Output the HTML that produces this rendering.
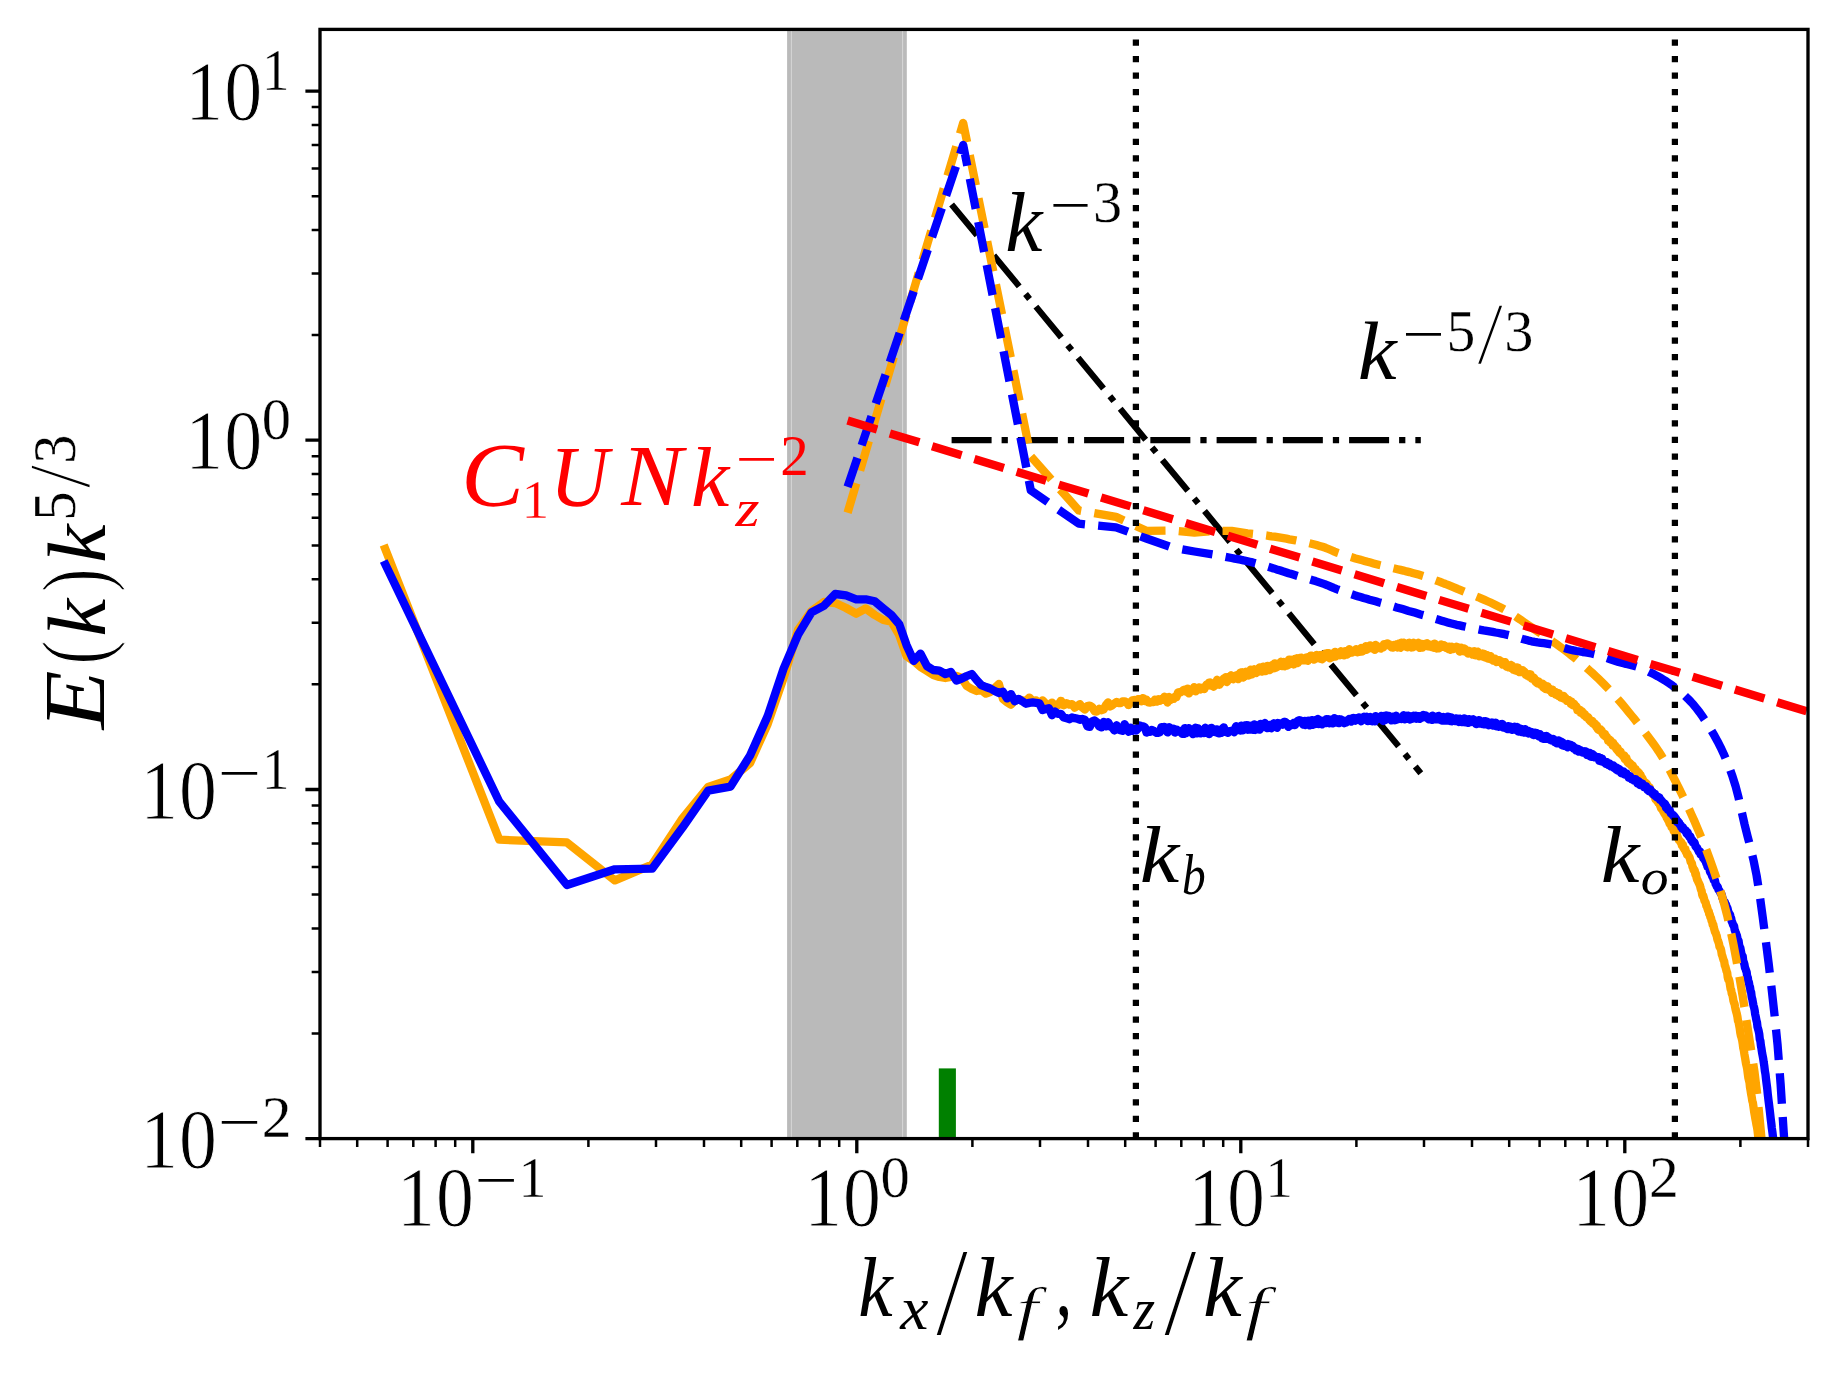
<!DOCTYPE html>
<html lang="en"><head><meta charset="utf-8"><title>E(k) k^(5/3) spectra</title>
<style>html,body{margin:0;padding:0;background:#fff}svg{display:block}text{font-family:"Liberation Serif","DejaVu Serif",serif;font-size:100px}</style></head><body>
<svg width="1838" height="1374" viewBox="0 0 1838 1374">
<rect x="0" y="0" width="1838" height="1374" fill="#ffffff"/>
<defs><clipPath id="ax"><rect x="320.0" y="29.4" width="1488.0" height="1109.2"/></clipPath></defs>
<g clip-path="url(#ax)" fill="none" stroke-linejoin="round">
<rect x="787.1" y="29.4" width="119.7" height="1109.2" fill="#bababa" stroke="none"/>
<rect x="791.6" y="29.4" width="111.0" height="1109.2" fill="#bababa" stroke="none"/>
<rect x="790.9" y="29.4" width="0.9" height="1109.2" fill="#dadada" stroke="none"/>
<rect x="902.2" y="29.4" width="0.9" height="1109.2" fill="#dadada" stroke="none"/>
<rect x="938.8" y="1068.4" width="17.1" height="70.2" fill="#008000" stroke="none"/>
<path d="M951.6 440.2H1420.8" stroke="#000" stroke-width="6.25" stroke-dasharray="40.00 10.00 6.25 10.00"/>
<path d="M951.6 204.4L1420.8 773.3" stroke="#000" stroke-width="6.25" stroke-dasharray="40.00 10.00 6.25 10.00"/>
<path d="M383.7 545.0L499.3 839.7L566.9 842.4L614.9 880.4L652.1 864.6L682.5 818.4L708.2 787.0L730.5 779.5L750.1 763.0L767.7 724.0L783.6 678.0L798.1 630.0L811.5 611.0L823.8 602.0L835.3 603.0L846.1 608.0L856.2 613.7L865.7 608.5L874.7 615.0L883.3 620.0L891.4 621.6L899.2 635.0L906.6 656.0L913.7 661.0L920.5 667.0L927.0 671.0L933.3 675.0L939.4 677.0L945.3 678.0L950.9 677.0L956.4 676.0L961.7 678.0L966.8 686.0L971.8 689.0L976.6 691.0L981.3 690.0L985.9 693.6L990.3 692.0L994.7 688.0L998.9 684.0L1003.0 699.0L1007.0 702.1L1011.0 704.6L1014.8 700.7L1018.5 699.5L1022.2 700.3L1025.8 701.2L1029.3 697.6L1032.7 700.9L1036.1 700.4L1039.4 703.7L1042.6 700.4L1045.8 703.9L1048.9 705.5L1052.0 702.6L1055.0 705.8L1058.0 705.2L1060.9 700.8L1063.7 705.3L1066.5 703.2L1069.3 704.7L1072.0 704.1L1074.6 707.6L1077.3 706.0L1079.9 704.1L1082.4 707.5L1084.9 709.6L1087.4 706.2L1089.8 705.7L1092.2 707.1L1094.6 711.3L1096.9 711.5L1099.2 708.9L1101.5 710.2L1103.7 709.3L1105.9 705.2L1108.1 702.5L1110.3 706.3L1112.4 705.2L1114.5 703.4L1116.6 702.0L1118.6 703.1L1120.6 703.2L1122.6 701.4L1124.6 701.3L1126.5 702.2L1128.5 705.0L1130.4 702.7L1132.3 700.3L1134.1 700.0L1136.0 701.2L1137.8 699.2L1139.6 699.1L1141.4 701.3L1143.1 698.1L1144.9 700.9L1146.6 699.9L1148.3 702.4L1150.0 702.6L1151.7 702.1L1153.4 702.0L1155.0 699.7L1156.6 701.7L1158.2 699.2L1159.8 700.8L1161.4 698.9L1163.0 699.6L1164.5 696.7L1166.1 697.7L1167.6 702.5L1169.1 696.9L1170.6 699.7L1172.1 698.9L1173.6 698.9L1175.0 696.7L1176.5 697.0L1177.9 692.7L1179.3 692.1L1180.7 692.3L1182.1 691.2L1183.5 690.1L1184.9 689.5L1186.2 691.8L1187.6 688.6L1188.9 693.4L1190.2 691.0L1191.6 689.7L1192.9 690.5L1194.2 687.1L1195.5 691.3L1196.7 690.4L1198.0 689.3L1199.3 687.4L1200.5 689.5L1201.7 688.5L1203.0 687.6L1204.2 689.0L1205.4 686.7L1206.6 684.6L1207.8 685.5L1209.0 682.8L1210.2 682.4L1211.3 685.7L1212.5 685.7L1213.7 686.6L1214.8 685.5L1215.9 683.1L1217.1 679.8L1218.2 682.1L1219.3 684.7L1220.4 683.4L1221.5 681.1L1222.6 680.5L1223.7 678.6L1224.8 678.1L1225.9 677.1L1226.9 682.1L1228.0 680.1L1229.0 676.6L1230.1 678.0L1231.1 675.3L1232.2 676.1L1233.2 679.2L1234.2 678.3L1235.2 676.9L1236.2 675.3L1237.2 677.4L1238.2 679.1L1239.2 675.4L1240.2 672.7L1241.2 672.4L1242.1 672.2L1243.1 677.6L1244.1 674.6L1245.0 676.3L1246.0 671.7L1246.9 672.0L1247.9 674.5L1248.8 675.5L1249.7 671.7L1250.6 669.6L1251.6 674.5L1252.5 670.5L1253.4 673.1L1254.3 669.2L1255.2 672.3L1256.1 673.0L1257.0 672.0L1257.9 669.4L1258.7 671.5L1259.6 667.5L1260.5 668.4L1261.4 668.8L1262.2 671.5L1263.1 666.7L1263.9 671.0L1264.8 670.3L1265.6 671.1L1266.5 667.1L1267.3 665.9L1268.1 665.9L1269.0 669.3L1269.8 670.0L1270.6 668.1L1271.4 666.5L1272.2 665.1L1273.0 668.3L1273.8 668.3L1274.6 663.3L1275.4 663.9L1276.2 667.5L1277.0 667.4L1277.8 663.9L1278.6 663.5L1279.4 664.3L1280.1 664.7L1280.9 661.8L1281.7 666.2L1282.4 664.2L1283.2 665.5L1283.9 662.0L1284.7 666.3L1285.4 664.8L1286.2 662.2L1286.9 665.7L1287.7 664.0L1288.4 664.7L1289.1 659.7L1289.9 659.7L1290.6 663.7L1291.3 660.9L1292.0 662.0L1292.8 659.7L1293.5 664.5L1294.2 661.5L1294.9 663.4L1295.6 658.7L1296.3 661.0L1297.0 658.3L1297.7 663.2L1298.4 660.4L1299.1 658.0L1299.8 657.9L1300.5 660.6L1301.1 657.7L1301.8 658.2L1302.5 659.6L1303.2 659.9L1303.8 660.3L1304.5 660.4L1305.2 658.8L1305.8 660.1L1306.5 657.3L1307.2 657.9L1307.8 660.8L1308.5 656.9L1309.1 657.2L1309.8 657.2L1310.4 658.5L1311.0 655.6L1311.7 655.7L1312.3 658.1L1313.0 656.2L1313.6 659.2L1314.2 659.7L1314.9 658.4L1315.5 658.9L1316.1 657.1L1316.7 654.9L1317.3 657.1L1318.0 656.7L1318.6 657.9L1319.2 655.1L1319.8 655.5L1320.4 658.8L1321.0 655.5L1321.6 656.3L1322.2 659.3L1322.8 655.3L1323.4 654.5L1324.0 657.6L1324.6 656.7L1325.2 656.9L1325.8 653.5L1326.4 655.6L1326.9 653.1L1327.5 654.4L1328.1 656.9L1328.7 653.1L1329.3 654.4L1329.8 658.3L1330.4 658.1L1331.0 655.2L1331.5 656.5L1332.1 655.8L1332.7 654.8L1333.2 656.9L1333.8 652.9L1334.4 656.6L1334.9 652.0L1335.5 656.6L1336.0 655.4L1336.6 654.0L1337.7 655.1L1338.8 653.7L1339.8 655.3L1340.9 651.3L1342.0 653.4L1343.1 655.2L1344.1 655.3L1345.2 651.1L1346.2 651.1L1347.2 654.5L1348.3 651.2L1349.3 649.3L1350.3 652.8L1351.3 650.9L1352.3 652.5L1353.3 650.8L1354.3 650.8L1355.3 650.1L1356.3 649.2L1357.3 652.3L1358.2 650.9L1359.2 651.3L1360.1 651.7L1361.1 648.0L1362.0 651.5L1363.0 651.0L1363.9 648.8L1364.9 649.0L1365.8 646.3L1366.7 649.7L1367.6 646.4L1368.5 648.2L1369.4 645.8L1370.3 645.4L1371.2 648.2L1372.1 647.4L1373.0 648.3L1373.9 648.9L1374.8 649.8L1375.6 644.9L1376.5 647.7L1377.4 647.3L1378.2 647.7L1379.1 647.0L1379.9 647.0L1380.8 648.6L1381.6 646.2L1382.5 646.6L1383.3 647.4L1384.1 644.1L1385.0 645.8L1385.8 644.0L1386.6 644.1L1387.4 643.3L1388.2 644.4L1389.0 644.3L1389.8 645.8L1390.6 646.1L1391.4 647.3L1392.2 645.5L1393.0 647.6L1393.8 644.9L1394.6 646.7L1395.3 645.6L1396.1 646.0L1396.9 644.1L1397.6 647.5L1398.4 646.6L1399.2 643.3L1399.9 645.3L1400.7 647.7L1401.4 642.7L1402.2 644.0L1402.9 646.3L1403.6 642.6L1404.4 646.3L1405.1 645.4L1405.8 646.2L1406.6 645.3L1407.3 647.3L1408.0 644.2L1408.7 645.4L1409.4 642.7L1410.1 645.3L1410.8 644.6L1411.6 647.5L1412.3 647.4L1412.9 643.3L1413.6 642.8L1414.3 643.2L1415.0 643.6L1415.7 646.4L1416.4 645.5L1417.1 645.4L1417.8 645.1L1418.4 642.8L1419.1 644.8L1419.8 647.9L1420.4 647.0L1421.1 645.8L1421.8 643.9L1422.4 647.6L1423.1 645.1L1423.7 646.1L1424.4 644.0L1425.0 644.7L1425.7 644.8L1426.3 645.1L1427.0 643.2L1427.6 646.4L1428.2 644.0L1428.9 646.2L1429.5 646.3L1430.1 646.7L1430.8 644.8L1431.4 644.8L1432.0 647.1L1432.6 645.3L1433.2 644.2L1433.9 647.9L1434.5 643.6L1435.1 647.9L1435.7 645.0L1436.3 645.5L1436.9 648.5L1437.5 645.8L1438.1 647.3L1438.7 645.8L1439.3 648.3L1439.9 647.4L1440.5 646.3L1441.1 644.4L1441.7 645.8L1442.2 646.4L1442.8 645.5L1443.4 646.8L1444.0 645.2L1444.6 646.7L1445.1 646.9L1445.7 647.6L1446.3 648.0L1446.9 648.0L1447.4 646.6L1448.0 646.9L1448.6 649.0L1449.1 646.6L1449.7 648.5L1450.2 649.8L1450.8 649.6L1451.3 647.9L1451.9 646.8L1452.4 648.4L1453.3 648.9L1454.1 648.3L1454.9 647.6L1455.7 648.4L1456.5 646.8L1457.3 647.9L1458.1 647.4L1458.9 650.1L1459.7 651.6L1460.5 648.0L1461.3 647.6L1462.1 651.1L1462.8 649.5L1463.6 650.4L1464.4 648.5L1465.1 649.2L1465.9 651.8L1466.7 651.6L1467.4 652.9L1468.2 653.6L1468.9 650.9L1469.7 652.3L1470.4 651.7L1471.1 652.2L1471.9 651.8L1472.6 654.7L1473.3 653.3L1474.1 651.2L1474.8 654.0L1475.5 655.4L1476.2 655.3L1476.9 653.9L1477.6 651.6L1478.3 655.5L1479.1 656.2L1479.8 655.5L1480.5 654.3L1481.1 654.3L1481.8 656.2L1482.5 653.5L1483.2 656.8L1483.9 655.7L1484.6 654.0L1485.3 657.6L1485.9 655.9L1486.6 654.8L1487.3 655.3L1487.9 658.6L1488.6 655.8L1489.3 658.7L1489.9 659.1L1490.6 656.1L1491.2 657.9L1491.9 659.7L1492.5 658.7L1493.2 660.6L1493.8 658.7L1494.5 660.1L1495.1 658.6L1495.8 661.6L1496.4 661.9L1497.0 661.0L1497.7 660.2L1498.3 660.6L1498.9 661.9L1499.5 660.2L1500.1 662.1L1500.8 661.4L1501.4 661.9L1502.0 662.1L1502.6 664.6L1503.2 662.0L1503.8 662.5L1504.4 662.5L1505.0 662.1L1505.6 664.1L1506.2 666.2L1506.8 666.7L1507.4 665.2L1508.0 665.1L1508.6 667.3L1509.2 666.1L1509.8 666.4L1510.4 667.1L1510.9 664.9L1511.5 668.4L1512.1 665.5L1512.7 667.6L1513.2 669.6L1513.8 668.2L1514.4 667.6L1514.9 669.5L1515.5 670.5L1516.1 669.5L1516.6 667.4L1517.2 671.1L1517.8 667.7L1518.3 670.8L1518.9 672.0L1519.4 669.1L1520.0 671.0L1520.7 672.1L1521.4 670.2L1522.2 670.8L1522.9 670.4L1523.6 671.2L1524.3 671.4L1525.0 672.5L1525.7 674.8L1526.4 674.9L1527.1 675.6L1527.8 675.6L1528.5 676.5L1529.2 674.2L1529.9 676.3L1530.6 674.5L1531.3 676.9L1532.0 678.8L1532.7 677.7L1533.3 677.4L1534.0 677.8L1534.7 678.8L1535.4 681.5L1536.0 682.3L1536.7 681.9L1537.4 683.4L1538.0 683.0L1538.7 681.5L1539.3 682.6L1540.0 684.3L1540.6 684.7L1541.3 685.0L1541.9 684.7L1542.6 683.7L1543.2 687.4L1543.8 684.9L1544.5 688.3L1545.1 685.3L1545.7 689.1L1546.4 687.1L1547.0 689.2L1547.6 686.4L1548.2 688.5L1548.8 688.1L1549.5 690.2L1550.1 690.5L1550.7 690.0L1551.3 691.4L1551.9 692.8L1552.5 689.6L1553.1 691.9L1553.7 692.7L1554.3 692.8L1554.9 691.7L1555.5 694.5L1556.1 692.4L1556.7 695.1L1557.3 693.9L1557.8 693.0L1558.4 696.0L1559.0 693.4L1559.6 696.6L1560.2 696.2L1560.7 697.6L1561.3 697.7L1561.9 696.5L1562.5 695.8L1563.0 696.7L1563.6 696.0L1564.1 698.9L1564.7 697.1L1565.3 697.8L1565.8 698.4L1566.4 699.4L1566.9 700.9L1567.5 700.3L1568.0 700.9L1568.7 699.9L1569.4 701.3L1570.1 701.3L1570.8 703.8L1571.4 701.6L1572.1 704.4L1572.8 705.2L1573.4 705.0L1574.1 703.8L1574.8 705.2L1575.4 705.6L1576.1 706.3L1576.7 706.9L1577.4 710.1L1578.0 710.0L1578.7 710.9L1579.3 710.8L1580.0 710.0L1580.6 712.8L1581.2 711.7L1581.9 711.1L1582.5 713.7L1583.1 712.6L1583.8 715.3L1584.4 715.5L1585.0 714.4L1585.6 715.7L1586.2 717.2L1586.9 717.6L1587.5 717.7L1588.1 717.1L1588.7 718.1L1589.3 720.1L1589.9 719.8L1590.5 721.4L1591.1 721.8L1591.7 721.2L1592.3 720.9L1592.9 723.6L1593.5 723.0L1594.1 724.4L1594.6 723.4L1595.2 724.0L1595.8 725.6L1596.4 727.1L1597.0 725.7L1597.6 728.7L1598.1 729.5L1598.7 729.5L1599.3 730.3L1599.8 729.1L1600.4 729.1L1601.0 730.6L1601.5 730.4L1602.1 732.0L1602.7 733.8L1603.2 732.7L1603.8 735.3L1604.3 734.5L1604.9 734.0L1605.5 736.4L1606.2 736.4L1606.8 736.8L1607.5 738.1L1608.1 740.5L1608.8 740.4L1609.4 739.5L1610.1 742.4L1610.7 740.5L1611.3 742.0L1612.0 742.6L1612.6 745.5L1613.2 742.7L1613.9 745.7L1614.5 745.9L1615.1 745.4L1615.7 747.8L1616.4 749.1L1617.0 749.7L1617.6 748.0L1618.2 751.2L1618.8 750.3L1619.4 752.8L1620.0 752.5L1620.6 751.5L1621.2 754.5L1621.8 754.6L1622.4 754.9L1623.0 756.2L1623.6 756.2L1624.2 755.5L1624.8 759.2L1625.4 757.7L1625.9 758.4L1626.5 758.3L1627.1 761.2L1627.7 762.5L1628.3 761.7L1628.8 763.5L1629.4 762.6L1630.0 763.4L1630.5 763.8L1631.1 764.4L1631.7 766.0L1632.2 765.8L1632.8 765.6L1633.4 768.4L1633.9 767.8L1634.5 768.7L1635.0 768.7L1635.6 768.9L1636.2 771.6L1636.8 771.6L1637.5 774.1L1638.1 771.8L1638.7 775.3L1639.4 773.4L1640.0 774.7L1640.6 775.0L1641.2 777.4L1641.9 777.7L1642.5 778.4L1643.1 781.3L1643.7 780.8L1644.3 782.8L1644.9 783.5L1645.5 782.5L1646.1 784.4L1646.7 783.7L1647.3 785.1L1647.9 787.0L1648.5 787.5L1649.1 786.8L1649.7 787.6L1650.3 790.7L1650.9 791.3L1651.5 792.0L1652.0 791.5L1652.6 794.2L1653.2 794.4L1653.8 794.0L1654.4 794.9L1654.9 797.3L1655.5 799.3L1656.1 799.0L1656.6 799.0L1657.2 801.3L1657.8 800.6L1658.3 802.9L1658.9 803.1L1659.4 802.9L1660.0 805.4L1660.5 806.3L1661.1 808.5L1661.7 808.9L1662.3 808.7L1663.0 810.9L1663.6 810.8L1664.2 813.1L1664.8 814.0L1665.4 815.2L1666.0 814.9L1666.7 817.7L1667.3 818.2L1667.9 819.9L1668.5 818.9L1669.1 822.1L1669.7 823.9L1670.3 823.8L1670.9 823.6L1671.5 827.0L1672.0 827.0L1672.6 827.2L1673.2 829.3L1673.8 831.1L1674.4 829.9L1675.0 832.3L1675.5 833.6L1676.1 835.5L1676.7 833.9L1677.3 836.3L1677.8 837.9L1678.4 838.7L1679.0 840.3L1679.5 840.6L1680.1 841.5L1680.7 842.4L1681.2 842.1L1681.8 845.1L1682.3 845.1L1682.9 844.6L1683.4 847.9L1684.0 848.6L1684.7 849.7L1685.3 849.0L1685.9 852.1L1686.5 852.2L1687.1 854.7L1687.7 854.0L1688.3 855.8L1688.9 856.3L1689.5 857.3L1690.1 859.5L1690.7 861.9L1691.3 862.4L1691.9 863.5L1692.5 866.7L1693.0 867.6L1693.6 869.9L1694.2 869.5L1694.8 870.8L1695.4 874.6L1695.9 873.7L1696.5 877.4L1697.1 879.5L1697.7 880.5L1698.2 881.8L1698.8 882.9L1699.4 884.3L1699.9 885.3L1700.5 887.9L1701.0 889.8L1701.6 890.7L1702.1 894.3L1702.7 896.0L1703.2 895.6L1703.9 898.2L1704.5 900.7L1705.1 901.6L1705.7 902.7L1706.3 905.8L1706.9 906.6L1707.5 908.6L1708.1 910.7L1708.7 911.1L1709.2 913.9L1709.8 914.5L1710.4 917.3L1711.0 917.9L1711.6 921.1L1712.2 921.6L1712.7 925.0L1713.3 924.7L1713.9 927.9L1714.5 930.0L1715.0 931.9L1715.6 932.7L1716.2 934.6L1716.7 935.8L1717.3 939.1L1717.9 940.7L1718.4 941.9L1719.0 943.8L1719.5 946.8L1720.1 947.7L1720.6 948.4L1721.2 950.6L1721.8 954.5L1722.4 956.0L1723.0 958.3L1723.6 960.1L1724.2 961.3L1724.8 965.5L1725.4 966.7L1726.0 969.1L1726.6 971.3L1727.2 972.8L1727.7 977.2L1728.3 979.5L1728.9 979.4L1729.5 981.8L1730.0 985.0L1730.6 988.9L1731.2 990.0L1731.7 993.5L1732.3 994.5L1732.9 997.3L1733.4 1000.5L1734.0 1002.6L1734.6 1004.1L1735.1 1007.0L1735.7 1009.9L1736.2 1011.8L1736.8 1013.8L1737.4 1016.7L1738.0 1020.8L1738.6 1022.2L1739.1 1025.0L1739.7 1028.1L1740.3 1032.7L1740.9 1035.7L1741.5 1037.5L1742.1 1039.9L1742.7 1043.6L1743.2 1047.8L1743.8 1050.2L1744.4 1054.2L1745.0 1057.4L1745.5 1060.5L1746.1 1064.0L1746.7 1066.4L1747.2 1068.9L1747.8 1073.7L1748.3 1077.5L1748.9 1080.0L1749.5 1082.4L1750.0 1087.3L1750.6 1090.6L1751.1 1093.9L1751.7 1096.8L1752.3 1101.0L1752.9 1102.8L1753.5 1107.1L1754.1 1111.5L1754.7 1114.9L1755.2 1117.9L1755.8 1120.8L1756.4 1124.3L1757.0 1127.2L1757.5 1130.3L1758.1 1135.5L1758.7 1138.4L1759.3 1141.6L1759.8 1145.3L1760.4 1148.7L1760.9 1152.5L1761.5 1157.5L1762.1 1160.5L1762.6 1164.6L1763.2 1169.8L1763.7 1172.0L1764.3 1178.1L1764.9 1181.3L1765.5 1186.7" stroke="#ffa500" stroke-width="8.33"/>
<path d="M383.7 561.0L499.3 801.7L566.9 885.0L614.9 869.3L652.1 868.7L682.5 827.6L708.2 790.6L730.5 786.6L750.1 755.5L767.7 716.0L783.6 668.7L798.1 634.7L811.5 612.4L823.8 605.9L835.3 594.0L846.1 595.4L856.2 599.3L865.7 599.3L874.7 601.3L883.3 608.5L891.4 615.0L899.2 624.2L906.6 645.2L913.7 660.9L920.5 653.7L927.0 666.1L933.3 670.0L939.4 670.7L945.3 674.0L950.9 672.0L956.4 680.5L961.7 678.5L966.8 676.0L971.8 674.0L976.6 680.0L981.3 685.1L985.9 687.0L990.3 688.5L994.7 691.0L998.9 693.0L1003.0 691.8L1007.0 698.4L1011.0 694.1L1014.8 701.2L1018.5 698.9L1022.2 701.2L1025.8 703.7L1029.3 702.9L1032.7 702.4L1036.1 702.8L1039.4 703.4L1042.6 710.1L1045.8 709.1L1048.9 708.2L1052.0 715.2L1055.0 711.6L1058.0 713.8L1060.9 713.9L1063.7 717.5L1066.5 718.1L1069.3 719.2L1072.0 717.4L1074.6 718.2L1077.3 718.6L1079.9 719.8L1082.4 719.0L1084.9 719.7L1087.4 726.4L1089.8 726.8L1092.2 721.4L1094.6 720.5L1096.9 722.3L1099.2 726.4L1101.5 727.3L1103.7 721.9L1105.9 726.4L1108.1 722.3L1110.3 726.5L1112.4 727.6L1114.5 730.5L1116.6 725.3L1118.6 729.5L1120.6 730.2L1122.6 730.8L1124.6 724.2L1126.5 727.8L1128.5 731.7L1130.4 727.6L1132.3 730.8L1134.1 728.9L1136.0 730.7L1137.8 728.7L1139.6 725.5L1141.4 726.0L1143.1 726.3L1144.9 727.4L1146.6 732.6L1148.3 730.3L1150.0 731.7L1151.7 730.0L1153.4 730.6L1155.0 731.9L1156.6 732.8L1158.2 732.8L1159.8 732.3L1161.4 727.1L1163.0 729.1L1164.5 726.9L1166.1 730.5L1167.6 732.4L1169.1 727.2L1170.6 728.2L1172.1 729.5L1173.6 728.7L1175.0 732.6L1176.5 729.6L1177.9 731.6L1179.3 730.6L1180.7 731.3L1182.1 733.8L1183.5 733.9L1184.9 728.1L1186.2 733.2L1187.6 729.8L1188.9 728.2L1190.2 730.1L1191.6 731.0L1192.9 734.1L1194.2 730.1L1195.5 727.6L1196.7 733.4L1198.0 728.3L1199.3 730.9L1200.5 733.4L1201.7 731.1L1203.0 730.6L1204.2 733.0L1205.4 727.7L1206.6 731.4L1207.8 730.3L1209.0 734.1L1210.2 732.8L1211.3 727.8L1212.5 728.6L1213.7 730.3L1214.8 732.0L1215.9 729.4L1217.1 729.5L1218.2 733.2L1219.3 733.4L1220.4 729.7L1221.5 732.8L1222.6 729.0L1223.7 727.3L1224.8 730.1L1225.9 730.9L1226.9 732.4L1228.0 732.8L1229.0 731.4L1230.1 731.2L1231.1 730.8L1232.2 730.7L1233.2 731.0L1234.2 732.3L1235.2 728.2L1236.2 726.3L1237.2 727.2L1238.2 727.0L1239.2 727.8L1240.2 730.6L1241.2 725.6L1242.1 728.1L1243.1 730.3L1244.1 726.7L1245.0 725.3L1246.0 726.3L1246.9 725.2L1247.9 729.8L1248.8 725.6L1249.7 725.6L1250.6 729.5L1251.6 729.4L1252.5 727.9L1253.4 729.8L1254.3 724.3L1255.2 730.0L1256.1 727.3L1257.0 725.6L1257.9 728.8L1258.7 727.6L1259.6 729.6L1260.5 723.9L1261.4 726.8L1262.2 726.1L1263.1 727.1L1263.9 724.4L1264.8 723.0L1265.6 726.2L1266.5 725.0L1267.3 728.2L1268.1 725.4L1269.0 725.0L1269.8 726.3L1270.6 725.6L1271.4 728.2L1272.2 727.0L1273.0 725.1L1273.8 723.3L1274.6 725.6L1275.4 726.5L1276.2 726.4L1277.0 727.8L1277.8 723.0L1278.6 724.2L1279.4 724.1L1280.1 723.4L1280.9 723.6L1281.7 724.3L1282.4 724.6L1283.2 722.8L1283.9 722.0L1284.7 723.0L1285.4 721.9L1286.2 722.9L1286.9 725.1L1287.7 724.6L1288.4 726.9L1289.1 724.2L1289.9 724.1L1290.6 724.6L1291.3 725.1L1292.0 724.4L1292.8 724.1L1293.5 724.2L1294.2 722.6L1294.9 725.1L1295.6 724.1L1296.3 722.2L1297.0 721.8L1297.7 720.7L1298.4 722.3L1299.1 720.3L1299.8 721.1L1300.5 720.5L1301.1 721.7L1301.8 722.1L1302.5 723.5L1303.2 724.6L1303.8 723.6L1304.5 720.8L1305.2 725.1L1305.8 724.1L1306.5 722.7L1307.2 723.5L1307.8 722.7L1308.5 720.6L1309.1 723.4L1309.8 725.4L1310.4 724.1L1311.0 720.5L1311.7 720.1L1312.3 724.9L1313.0 724.7L1313.6 723.7L1314.2 723.7L1314.9 720.1L1315.5 724.0L1316.1 720.3L1316.7 720.0L1317.3 721.5L1318.0 719.0L1318.6 724.0L1319.2 719.9L1319.8 723.3L1320.4 722.3L1321.0 723.4L1321.6 722.3L1322.2 724.4L1322.8 721.0L1323.4 721.6L1324.0 720.7L1324.6 723.0L1325.2 720.4L1325.8 723.2L1326.4 719.1L1326.9 719.9L1327.5 721.0L1328.1 719.2L1328.7 719.6L1329.3 723.3L1329.8 720.5L1330.4 719.6L1331.0 723.2L1331.5 721.6L1332.1 721.9L1332.7 723.3L1333.2 722.3L1333.8 719.7L1334.4 718.2L1334.9 721.2L1335.5 722.1L1336.0 722.6L1336.6 719.1L1337.7 721.6L1338.8 723.2L1339.8 719.3L1340.9 719.4L1342.0 720.1L1343.1 720.9L1344.1 723.2L1345.2 720.9L1346.2 722.5L1347.2 721.1L1348.3 720.0L1349.3 719.0L1350.3 719.2L1351.3 721.6L1352.3 718.2L1353.3 717.9L1354.3 718.3L1355.3 720.7L1356.3 719.0L1357.3 718.1L1358.2 718.7L1359.2 717.3L1360.1 719.2L1361.1 721.2L1362.0 719.1L1363.0 719.1L1363.9 716.8L1364.9 718.1L1365.8 716.9L1366.7 716.7L1367.6 721.1L1368.5 720.3L1369.4 720.9L1370.3 717.0L1371.2 718.3L1372.1 721.2L1373.0 718.5L1373.9 721.2L1374.8 721.3L1375.6 716.1L1376.5 718.4L1377.4 719.1L1378.2 717.8L1379.1 717.9L1379.9 717.8L1380.8 717.1L1381.6 715.9L1382.5 719.6L1383.3 721.0L1384.1 715.9L1385.0 720.2L1385.8 718.5L1386.6 715.6L1387.4 715.8L1388.2 718.2L1389.0 716.0L1389.8 716.9L1390.6 716.8L1391.4 720.4L1392.2 717.7L1393.0 716.7L1393.8 720.1L1394.6 720.2L1395.3 718.9L1396.1 715.8L1396.9 719.7L1397.6 717.3L1398.4 719.0L1399.2 718.7L1399.9 718.3L1400.7 718.8L1401.4 719.0L1402.2 717.2L1402.9 717.3L1403.6 715.2L1404.4 716.6L1405.1 719.3L1405.8 715.8L1406.6 718.5L1407.3 718.8L1408.0 715.6L1408.7 718.5L1409.4 717.9L1410.1 719.5L1410.8 716.5L1411.6 718.4L1412.3 718.8L1412.9 716.4L1413.6 715.6L1414.3 716.4L1415.0 717.8L1415.7 715.8L1416.4 718.8L1417.1 716.0L1417.8 718.3L1418.4 716.1L1419.1 717.0L1419.8 718.9L1420.4 716.9L1421.1 717.7L1421.8 716.2L1422.4 716.9L1423.1 714.9L1423.7 717.2L1424.4 716.9L1425.0 716.1L1425.7 715.5L1426.3 716.4L1427.0 716.2L1427.6 716.6L1428.2 718.8L1428.9 719.3L1429.5 719.4L1430.1 717.0L1430.8 719.4L1431.4 717.9L1432.0 719.9L1432.6 715.7L1433.2 718.8L1433.9 718.0L1434.5 717.7L1435.1 719.0L1435.7 719.4L1436.3 719.4L1436.9 717.1L1437.5 717.3L1438.1 718.4L1438.7 715.8L1439.3 719.6L1439.9 718.5L1440.5 717.9L1441.1 718.9L1441.7 720.5L1442.2 719.8L1442.8 719.1L1443.4 717.0L1444.0 720.7L1444.6 718.0L1445.1 720.5L1445.7 718.6L1446.3 719.5L1446.9 720.6L1447.4 716.7L1448.0 717.9L1448.6 717.4L1449.1 716.8L1449.7 718.3L1450.2 721.1L1450.8 718.0L1451.3 717.3L1451.9 721.4L1452.4 719.3L1453.3 719.3L1454.1 720.4L1454.9 721.1L1455.7 718.4L1456.5 718.3L1457.3 719.5L1458.1 721.5L1458.9 722.0L1459.7 718.6L1460.5 721.0L1461.3 720.0L1462.1 722.1L1462.8 719.4L1463.6 719.4L1464.4 718.3L1465.1 722.4L1465.9 719.1L1466.7 719.8L1467.4 719.7L1468.2 722.9L1468.9 719.1L1469.7 720.4L1470.4 722.1L1471.1 719.8L1471.9 721.8L1472.6 721.1L1473.3 719.3L1474.1 722.2L1474.8 721.1L1475.5 720.5L1476.2 724.1L1476.9 723.6L1477.6 721.9L1478.3 721.4L1479.1 720.1L1479.8 723.5L1480.5 721.5L1481.1 722.7L1481.8 723.3L1482.5 724.0L1483.2 721.4L1483.9 721.2L1484.6 724.4L1485.3 721.2L1485.9 722.9L1486.6 721.4L1487.3 722.2L1487.9 722.3L1488.6 725.3L1489.3 725.0L1489.9 722.8L1490.6 724.5L1491.2 724.2L1491.9 722.5L1492.5 723.8L1493.2 725.6L1493.8 723.0L1494.5 723.6L1495.1 724.2L1495.8 722.8L1496.4 726.3L1497.0 724.7L1497.7 725.9L1498.3 725.5L1498.9 726.7L1499.5 726.3L1500.1 725.3L1500.8 724.2L1501.4 725.6L1502.0 723.9L1502.6 724.3L1503.2 727.7L1503.8 726.5L1504.4 727.8L1505.0 727.7L1505.6 726.9L1506.2 727.9L1506.8 728.9L1507.4 729.1L1508.0 726.2L1508.6 729.1L1509.2 727.3L1509.8 726.3L1510.4 727.3L1510.9 728.2L1511.5 729.6L1512.1 729.8L1512.7 728.4L1513.2 729.6L1513.8 728.5L1514.4 726.8L1514.9 728.4L1515.5 729.6L1516.1 730.0L1516.6 729.8L1517.2 727.0L1517.8 730.1L1518.3 731.5L1518.9 728.3L1519.4 730.6L1520.0 728.5L1520.7 731.1L1521.4 732.0L1522.2 729.2L1522.9 732.0L1523.6 729.9L1524.3 732.6L1525.0 729.2L1525.7 732.5L1526.4 730.4L1527.1 731.3L1527.8 730.6L1528.5 733.5L1529.2 731.2L1529.9 732.0L1530.6 732.3L1531.3 732.1L1532.0 732.2L1532.7 734.5L1533.3 734.0L1534.0 735.1L1534.7 732.7L1535.4 734.6L1536.0 732.9L1536.7 733.2L1537.4 734.7L1538.0 735.6L1538.7 736.3L1539.3 735.9L1540.0 734.2L1540.6 735.6L1541.3 737.3L1541.9 738.3L1542.6 738.4L1543.2 736.9L1543.8 738.9L1544.5 736.3L1545.1 738.0L1545.7 738.8L1546.4 736.0L1547.0 736.5L1547.6 737.7L1548.2 737.5L1548.8 737.5L1549.5 739.2L1550.1 739.8L1550.7 739.4L1551.3 740.4L1551.9 739.1L1552.5 739.5L1553.1 738.8L1553.7 739.4L1554.3 740.6L1554.9 742.2L1555.5 741.0L1556.1 742.8L1556.7 743.3L1557.3 742.8L1557.8 743.1L1558.4 740.3L1559.0 743.1L1559.6 740.8L1560.2 743.8L1560.7 742.7L1561.3 741.6L1561.9 745.1L1562.5 742.4L1563.0 745.6L1563.6 745.2L1564.1 745.9L1564.7 745.0L1565.3 744.1L1565.8 745.7L1566.4 745.0L1566.9 746.2L1567.5 747.3L1568.0 744.0L1568.7 744.7L1569.4 746.0L1570.1 744.7L1570.8 746.3L1571.4 746.8L1572.1 746.1L1572.8 745.8L1573.4 748.4L1574.1 747.1L1574.8 749.1L1575.4 748.3L1576.1 750.4L1576.7 748.4L1577.4 749.6L1578.0 748.9L1578.7 751.6L1579.3 749.4L1580.0 751.1L1580.6 750.2L1581.2 751.7L1581.9 751.7L1582.5 752.5L1583.1 752.2L1583.8 751.9L1584.4 752.1L1585.0 751.3L1585.6 751.4L1586.2 751.8L1586.9 754.9L1587.5 754.2L1588.1 755.3L1588.7 754.5L1589.3 753.3L1589.9 752.8L1590.5 755.0L1591.1 756.9L1591.7 756.5L1592.3 754.1L1592.9 755.4L1593.5 754.9L1594.1 755.6L1594.6 757.4L1595.2 756.4L1595.8 757.3L1596.4 756.8L1597.0 757.5L1597.6 757.7L1598.1 758.7L1598.7 757.2L1599.3 760.8L1599.8 757.9L1600.4 757.9L1601.0 761.3L1601.5 759.6L1602.1 758.6L1602.7 759.8L1603.2 762.1L1603.8 762.2L1604.3 762.1L1604.9 763.0L1605.5 762.1L1606.2 764.1L1606.8 762.1L1607.5 763.3L1608.1 764.9L1608.8 764.2L1609.4 763.5L1610.1 764.2L1610.7 766.4L1611.3 765.6L1612.0 765.3L1612.6 766.7L1613.2 765.4L1613.9 767.8L1614.5 766.9L1615.1 767.8L1615.7 767.6L1616.4 769.7L1617.0 767.7L1617.6 770.5L1618.2 770.2L1618.8 768.9L1619.4 769.2L1620.0 769.9L1620.6 770.9L1621.2 773.0L1621.8 772.8L1622.4 771.5L1623.0 772.5L1623.6 771.4L1624.2 774.3L1624.8 774.5L1625.4 774.6L1625.9 774.8L1626.5 773.4L1627.1 775.3L1627.7 775.9L1628.3 776.4L1628.8 777.7L1629.4 776.1L1630.0 776.2L1630.5 777.2L1631.1 778.2L1631.7 779.4L1632.2 779.4L1632.8 779.0L1633.4 778.9L1633.9 780.5L1634.5 779.6L1635.0 780.1L1635.6 779.1L1636.2 781.1L1636.8 780.5L1637.5 783.5L1638.1 781.0L1638.7 781.2L1639.4 783.2L1640.0 785.1L1640.6 783.2L1641.2 783.2L1641.9 783.4L1642.5 783.5L1643.1 786.0L1643.7 785.5L1644.3 787.4L1644.9 785.9L1645.5 787.4L1646.1 786.2L1646.7 787.5L1647.3 789.8L1647.9 789.3L1648.5 789.3L1649.1 791.2L1649.7 789.8L1650.3 789.3L1650.9 791.0L1651.5 791.9L1652.0 793.0L1652.6 792.1L1653.2 793.1L1653.8 794.7L1654.4 794.4L1654.9 793.8L1655.5 796.3L1656.1 795.7L1656.6 797.0L1657.2 797.5L1657.8 797.6L1658.3 796.9L1658.9 798.6L1659.4 797.5L1660.0 799.9L1660.5 800.0L1661.1 800.0L1661.7 801.1L1662.3 801.4L1663.0 802.7L1663.6 803.4L1664.2 804.3L1664.8 803.7L1665.4 804.7L1666.0 807.8L1666.7 806.6L1667.3 807.8L1667.9 809.8L1668.5 809.6L1669.1 810.5L1669.7 810.2L1670.3 812.2L1670.9 813.4L1671.5 813.8L1672.0 814.4L1672.6 814.5L1673.2 815.9L1673.8 815.6L1674.4 817.1L1675.0 817.0L1675.5 818.2L1676.1 818.6L1676.7 821.8L1677.3 821.3L1677.8 821.1L1678.4 823.0L1679.0 822.6L1679.5 824.4L1680.1 824.7L1680.7 825.0L1681.2 827.2L1681.8 827.2L1682.3 828.7L1682.9 827.3L1683.4 828.3L1684.0 829.9L1684.7 830.6L1685.3 830.3L1685.9 830.5L1686.5 833.5L1687.1 832.8L1687.7 832.6L1688.3 835.4L1688.9 835.1L1689.5 837.1L1690.1 836.2L1690.7 837.4L1691.3 840.1L1691.9 840.1L1692.5 840.3L1693.0 842.5L1693.6 842.8L1694.2 842.2L1694.8 843.4L1695.4 846.0L1695.9 847.0L1696.5 847.3L1697.1 847.7L1697.7 849.6L1698.2 849.8L1698.8 851.5L1699.4 851.8L1699.9 851.4L1700.5 854.2L1701.0 854.1L1701.6 854.6L1702.1 855.2L1702.7 856.3L1703.2 858.0L1703.9 857.7L1704.5 859.7L1705.1 860.5L1705.7 861.2L1706.3 863.5L1706.9 864.3L1707.5 866.9L1708.1 867.1L1708.7 867.3L1709.2 868.3L1709.8 870.9L1710.4 872.6L1711.0 872.8L1711.6 874.4L1712.2 876.3L1712.7 877.1L1713.3 878.2L1713.9 880.2L1714.5 879.4L1715.0 880.7L1715.6 883.9L1716.2 884.7L1716.7 886.4L1717.3 886.3L1717.9 887.2L1718.4 889.8L1719.0 890.1L1719.5 890.8L1720.1 892.0L1720.6 893.3L1721.2 893.5L1721.8 895.1L1722.4 897.7L1723.0 899.2L1723.6 901.1L1724.2 901.6L1724.8 901.9L1725.4 904.6L1726.0 904.6L1726.6 907.0L1727.2 907.5L1727.7 909.1L1728.3 912.0L1728.9 912.7L1729.5 914.6L1730.0 914.6L1730.6 916.9L1731.2 918.3L1731.7 921.4L1732.3 922.4L1732.9 924.3L1733.4 925.7L1734.0 925.8L1734.6 929.4L1735.1 931.0L1735.7 932.7L1736.2 933.9L1736.8 935.3L1737.4 937.9L1738.0 939.8L1738.6 941.1L1739.1 944.9L1739.7 946.8L1740.3 947.7L1740.9 951.0L1741.5 954.0L1742.1 955.2L1742.7 956.3L1743.2 960.8L1743.8 962.3L1744.4 964.2L1745.0 967.7L1745.5 968.8L1746.1 970.6L1746.7 972.4L1747.2 976.8L1747.8 977.6L1748.3 981.6L1748.9 982.3L1749.5 986.1L1750.0 987.1L1750.6 991.3L1751.1 992.1L1751.7 997.0L1752.3 999.1L1752.9 1002.4L1753.5 1005.6L1754.1 1007.7L1754.7 1010.5L1755.2 1014.4L1755.8 1016.9L1756.4 1020.2L1757.0 1022.6L1757.5 1026.9L1758.1 1029.0L1758.7 1031.2L1759.3 1034.3L1759.8 1039.4L1760.4 1041.0L1760.9 1045.6L1761.5 1048.8L1762.1 1053.0L1762.6 1055.5L1763.2 1058.6L1763.7 1062.2L1764.3 1065.9L1764.9 1071.0L1765.5 1074.4L1766.1 1079.7L1766.6 1083.8L1767.2 1088.3L1767.8 1094.4L1768.4 1099.4L1769.0 1104.1L1769.5 1108.2L1770.1 1113.2L1770.7 1118.7L1771.3 1123.4L1771.8 1128.0L1772.4 1132.1L1773.0 1136.9L1773.5 1142.3L1774.1 1147.5L1774.6 1151.4L1775.2 1156.6L1775.7 1162.3L1776.3 1165.7L1776.8 1171.5L1777.4 1176.2L1778.0 1181.0L1778.6 1186.5" stroke="#0000ff" stroke-width="8.33"/>
<path d="M847.6 512.7L963.2 123.0L1030.8 456.3L1078.8 510.5L1116.0 516.9L1146.4 530.8L1172.1 530.5L1194.4 532.6L1214.0 530.8L1231.6 530.8L1247.5 533.4L1250.5 533.7L1253.5 534.0L1256.5 534.3L1259.5 534.6L1262.5 535.0L1265.5 535.4L1268.5 535.8L1271.5 536.3L1274.5 536.7L1277.5 537.2L1280.5 537.7L1283.5 538.2L1286.5 538.7L1289.5 539.3L1292.5 539.8L1295.5 540.3L1298.5 540.9L1301.5 541.5L1304.5 542.1L1307.5 542.8L1310.5 543.5L1313.5 544.2L1316.5 545.0L1319.5 545.9L1322.5 546.8L1325.5 547.8L1328.5 549.0L1331.5 550.3L1334.5 551.6L1337.5 552.8L1340.5 553.8L1343.5 554.8L1346.5 555.7L1349.5 556.6L1352.5 557.5L1355.5 558.4L1358.5 559.2L1361.5 560.1L1364.5 560.9L1367.5 561.8L1370.5 562.6L1373.5 563.4L1376.5 564.2L1379.5 565.0L1382.5 565.7L1385.5 566.4L1388.5 567.1L1391.5 567.8L1394.5 568.5L1397.5 569.2L1400.5 569.9L1403.5 570.6L1406.5 571.4L1409.5 572.1L1412.5 572.9L1415.5 573.7L1418.5 574.6L1421.5 575.5L1424.5 576.4L1427.5 577.4L1430.5 578.4L1433.5 579.5L1436.5 580.6L1439.5 581.7L1442.5 582.9L1445.5 584.0L1448.5 585.2L1451.5 586.4L1454.5 587.6L1457.5 588.9L1460.5 590.1L1463.5 591.3L1466.5 592.5L1469.5 593.7L1472.5 594.9L1475.5 596.1L1478.5 597.3L1481.5 598.6L1484.5 599.9L1487.5 601.2L1490.5 602.5L1493.5 603.9L1496.5 605.4L1499.5 606.9L1502.5 608.5L1505.5 610.1L1508.5 611.9L1511.5 613.8L1514.5 615.7L1517.5 617.7L1520.5 619.7L1523.5 621.8L1526.5 623.9L1529.5 625.9L1532.5 628.0L1535.5 630.0L1538.5 632.0L1541.5 634.0L1544.5 636.0L1547.5 638.1L1550.5 640.1L1553.5 642.1L1556.5 644.2L1559.5 646.3L1562.5 648.5L1565.5 650.7L1568.5 653.0L1571.5 655.4L1574.5 657.7L1577.5 660.2L1580.5 662.7L1583.5 665.2L1586.5 667.8L1589.5 670.5L1592.5 673.2L1595.5 676.0L1598.5 678.8L1601.5 681.7L1604.5 684.7L1607.5 687.8L1610.5 690.9L1613.5 694.2L1616.5 697.6L1619.5 701.0L1622.5 704.5L1625.5 708.1L1628.5 711.8L1631.5 715.5L1634.5 719.2L1637.5 723.0L1640.5 726.8L1643.5 730.6L1646.5 734.5L1649.5 738.5L1652.5 742.5L1655.5 746.7L1658.5 751.1L1661.5 755.8L1664.5 760.7L1667.5 766.0L1670.5 771.5L1673.5 777.4L1676.5 783.3L1679.5 789.4L1682.5 795.5L1685.5 801.7L1688.5 808.0L1691.5 814.6L1694.5 821.3L1697.5 828.3L1700.5 835.5L1703.5 842.8L1706.5 850.4L1709.5 858.4L1712.5 866.8L1715.5 875.6L1718.5 884.8L1721.5 894.6L1724.5 905.2L1727.5 916.8L1730.5 930.0L1733.5 944.7L1736.5 960.6L1739.5 977.2L1742.5 995.0L1745.5 1014.0L1748.5 1033.5L1751.5 1052.3L1754.5 1072.0L1757.5 1096.6L1760.5 1127.9L1763.5 1160.7" stroke="#ffa500" stroke-width="8.33" stroke-dasharray="30.67 13.26"/>
<path d="M847.6 486.9L963.2 145.0L1030.8 490.4L1078.8 523.7L1116.0 527.3L1146.4 538.5L1172.1 547.5L1194.4 551.5L1214.0 554.6L1231.6 558.0L1234.6 558.6L1237.6 559.1L1240.6 559.7L1243.6 560.4L1246.6 561.0L1249.6 561.7L1252.6 562.4L1255.6 563.2L1258.6 564.0L1261.6 564.8L1264.6 565.7L1267.6 566.6L1270.6 567.5L1273.6 568.4L1276.6 569.4L1279.6 570.3L1282.6 571.3L1285.6 572.2L1288.6 573.2L1291.6 574.1L1294.6 575.0L1297.6 575.9L1300.6 576.8L1303.6 577.6L1306.6 578.5L1309.6 579.3L1312.6 580.2L1315.6 581.1L1318.6 582.1L1321.6 583.1L1324.6 584.1L1327.6 585.3L1330.6 586.6L1333.6 587.9L1336.6 589.1L1339.6 590.2L1342.6 591.3L1345.6 592.3L1348.6 593.3L1351.6 594.3L1354.6 595.3L1357.6 596.2L1360.6 597.1L1363.6 598.0L1366.6 598.8L1369.6 599.7L1372.6 600.5L1375.6 601.3L1378.6 602.2L1381.6 603.0L1384.6 603.9L1387.6 604.7L1390.6 605.6L1393.6 606.5L1396.6 607.4L1399.6 608.2L1402.6 609.1L1405.6 610.0L1408.6 610.9L1411.6 611.7L1414.6 612.6L1417.6 613.5L1420.6 614.4L1423.6 615.2L1426.6 616.1L1429.6 617.0L1432.6 618.0L1435.6 618.9L1438.6 619.8L1441.6 620.7L1444.6 621.6L1447.6 622.4L1450.6 623.3L1453.6 624.0L1456.6 624.8L1459.6 625.4L1462.6 626.1L1465.6 626.8L1468.6 627.4L1471.6 628.0L1474.6 628.6L1477.6 629.2L1480.6 629.8L1483.6 630.4L1486.6 630.9L1489.6 631.4L1492.6 631.9L1495.6 632.5L1498.6 633.0L1501.6 633.6L1504.6 634.2L1507.6 634.9L1510.6 635.6L1513.6 636.4L1516.6 637.3L1519.6 638.1L1522.6 639.0L1525.6 639.8L1528.6 640.6L1531.6 641.3L1534.6 641.9L1537.6 642.4L1540.6 642.8L1543.6 643.2L1546.6 643.6L1549.6 644.1L1552.6 644.7L1555.6 645.4L1558.6 646.3L1561.6 647.1L1564.6 648.0L1567.6 648.9L1570.6 649.7L1573.6 650.4L1576.6 651.0L1579.6 651.5L1582.6 652.0L1585.6 652.4L1588.6 652.9L1591.6 653.5L1594.6 654.2L1597.6 655.1L1600.6 656.0L1603.6 656.9L1606.6 658.0L1609.6 659.0L1612.6 660.0L1615.6 661.0L1618.6 662.0L1621.6 662.8L1624.6 663.6L1627.6 664.2L1630.6 664.9L1633.6 665.7L1636.6 666.6L1639.6 667.7L1642.6 668.9L1645.6 670.2L1648.6 671.6L1651.6 673.1L1654.6 674.6L1657.6 676.2L1660.6 677.9L1663.6 679.7L1666.6 681.6L1669.6 683.6L1672.6 685.7L1675.6 688.0L1678.6 690.4L1681.6 692.9L1684.6 695.5L1687.6 698.4L1690.6 701.5L1693.6 704.8L1696.6 708.5L1699.6 712.4L1702.6 716.7L1705.6 721.2L1708.6 725.9L1711.6 730.8L1714.6 735.9L1717.6 741.4L1720.6 747.3L1723.6 753.7L1726.6 760.7L1729.6 768.3L1732.6 776.7L1735.6 786.2L1738.6 797.8L1741.6 811.3L1744.6 824.5L1747.6 836.4L1750.6 848.0L1753.6 860.6L1756.6 875.5L1759.6 894.4L1762.6 916.3L1765.6 939.3L1768.6 963.0L1771.6 988.5L1774.6 1015.6L1777.6 1045.2L1780.6 1083.9L1783.6 1130.8L1786.6 1171.9" stroke="#0000ff" stroke-width="8.33" stroke-dasharray="30.67 13.26"/>
<path d="M1135.9 1138.6V29.4" stroke="#000" stroke-width="6.25" stroke-dasharray="6.25 10.31"/>
<path d="M1674.9 1138.6V29.4" stroke="#000" stroke-width="6.25" stroke-dasharray="6.25 10.31"/>
<path d="M847.6 420.6L1812 712.9" stroke="#ff0000" stroke-width="8.33" stroke-dasharray="30.82 13.33"/>
</g>
<g stroke="#000" fill="none">
<path d="M472.8 1138.6v14.6M856.8 1138.6v14.6M1240.8 1138.6v14.6M1624.8 1138.6v14.6" stroke-width="3.33"/>
<path d="M320.0 1138.6v8.33M357.2 1138.6v8.33M387.6 1138.6v8.33M413.3 1138.6v8.33M435.6 1138.6v8.33M455.2 1138.6v8.33M588.4 1138.6v8.33M656.0 1138.6v8.33M704.0 1138.6v8.33M741.2 1138.6v8.33M771.6 1138.6v8.33M797.3 1138.6v8.33M819.6 1138.6v8.33M839.2 1138.6v8.33M972.4 1138.6v8.33M1040.0 1138.6v8.33M1088.0 1138.6v8.33M1125.2 1138.6v8.33M1155.6 1138.6v8.33M1181.3 1138.6v8.33M1203.6 1138.6v8.33M1223.2 1138.6v8.33M1356.4 1138.6v8.33M1424.0 1138.6v8.33M1472.0 1138.6v8.33M1509.2 1138.6v8.33M1539.6 1138.6v8.33M1565.3 1138.6v8.33M1587.6 1138.6v8.33M1607.2 1138.6v8.33M1740.4 1138.6v8.33M1808.0 1138.6v8.33" stroke-width="2.5"/>
<path d="M320.0 1138.7h-14.6M320.0 789.5h-14.6M320.0 440.2h-14.6M320.0 91.1h-14.6" stroke-width="3.33"/>
<path d="M320.0 1033.5h-8.33M320.0 972.0h-8.33M320.0 928.4h-8.33M320.0 894.6h-8.33M320.0 866.9h-8.33M320.0 843.5h-8.33M320.0 823.3h-8.33M320.0 805.4h-8.33M320.0 684.3h-8.33M320.0 622.8h-8.33M320.0 579.2h-8.33M320.0 545.4h-8.33M320.0 517.7h-8.33M320.0 494.3h-8.33M320.0 474.1h-8.33M320.0 456.2h-8.33M320.0 335.1h-8.33M320.0 273.6h-8.33M320.0 230.0h-8.33M320.0 196.2h-8.33M320.0 168.5h-8.33M320.0 145.1h-8.33M320.0 124.9h-8.33M320.0 107.0h-8.33" stroke-width="2.5"/>
<rect x="320.0" y="29.4" width="1488.0" height="1109.2" stroke-width="3.33" stroke-linejoin="miter"/>
</g>
<g>
<g><text transform="translate(0 120.23) scale(0.7598 0.8471)" x="243.89 295.24" stroke="#fff" stroke-width="1.12">10</text><text transform="translate(262.03 90.20) scale(0.5482 0.5893)" stroke="#fff" stroke-width="0.53">1</text></g>
<g><text transform="translate(0 469.43) scale(0.7598 0.8471)" x="243.89 295.24" stroke="#fff" stroke-width="1.12">10</text><text transform="translate(261.82 439.22) scale(0.5851 0.5928)" stroke="#fff" stroke-width="0.51">0</text></g>
<g><text transform="translate(0 818.63) scale(0.7586 0.8471)" x="184.86 236.08" stroke="#fff" stroke-width="1.12">10</text><text transform="translate(217.91 791.92) scale(0.7607 0.5622)">−</text><text transform="translate(262.03 788.60) scale(0.5482 0.5893)" stroke="#fff" stroke-width="0.53">1</text></g>
<g><text transform="translate(0 1167.83) scale(0.7586 0.8471)" x="184.86 236.08" stroke="#fff" stroke-width="1.12">10</text><text transform="translate(217.91 1141.12) scale(0.7607 0.5622)">−</text><text transform="translate(261.73 1137.30) scale(0.5962 0.5951)" stroke="#fff" stroke-width="0.50">2</text></g>
<g><text transform="translate(0 1226.13) scale(0.7586 0.8441)" x="523.39 574.74" stroke="#fff" stroke-width="1.12">10</text><text transform="translate(474.71 1199.47) scale(0.7607 0.5622)">−</text><text transform="translate(518.71 1196.55) scale(0.5511 0.5802)" stroke="#fff" stroke-width="0.53">1</text></g>
<g><text transform="translate(0 1226.13) scale(0.7586 0.8441)" x="1060.06 1111.41" stroke="#fff" stroke-width="1.12">10</text><text transform="translate(880.52 1196.77) scale(0.5851 0.5913)" stroke="#fff" stroke-width="0.51">0</text></g>
<g><text transform="translate(0 1226.13) scale(0.7586 0.8441)" x="1566.27 1617.62" stroke="#fff" stroke-width="1.12">10</text><text transform="translate(1265.73 1196.55) scale(0.5369 0.5802)" stroke="#fff" stroke-width="0.54">1</text></g>
<g><text transform="translate(0 1226.13) scale(0.7586 0.8441)" x="2072.48 2123.84" stroke="#fff" stroke-width="1.12">10</text><text transform="translate(1649.03 1196.55) scale(0.5962 0.5905)" stroke="#fff" stroke-width="0.51">2</text></g>
</g>
<g>
<g><text transform="translate(858.27 1316.30) scale(0.7750 0.8402)" font-style="italic">k</text><text transform="translate(900.28 1328.80) scale(0.6351 0.6166)" font-style="italic">x</text><text transform="translate(935.40 1335.16) scale(1.1878 1.2677)" stroke="#fff" stroke-width="1.47">/</text><text transform="translate(974.53 1316.30) scale(0.8564 0.8402)" font-style="italic">k</text><text transform="translate(1016.62 1327.80) scale(0.7857 0.5965)" font-style="italic" stroke="#fff" stroke-width="1.45">f</text><text transform="translate(1055.44 1315.81) scale(0.6715 0.9228)">,</text><text transform="translate(1089.49 1316.30) scale(0.8727 0.8402)" font-style="italic">k</text><text transform="translate(1133.62 1328.80) scale(0.5553 0.5991)" font-style="italic">z</text><text transform="translate(1163.60 1335.16) scale(1.2094 1.2677)" stroke="#fff" stroke-width="1.45">/</text><text transform="translate(1202.99 1316.30) scale(0.8727 0.8402)" font-style="italic">k</text><text transform="translate(1244.89 1327.80) scale(0.8119 0.5965)" font-style="italic" stroke="#fff" stroke-width="1.42">f</text></g>
<g><text transform="translate(104.10 729.17) rotate(-90) scale(0.9613 0.8659)" font-style="italic">E</text><text transform="translate(105.76 664.87) rotate(-90) scale(0.7320 0.9297)" stroke="#fff" stroke-width="1.56">(</text><text transform="translate(104.50 636.66) rotate(-90) scale(0.8541 0.8316)" font-style="italic">k</text><text transform="translate(105.76 592.27) rotate(-90) scale(0.7203 0.9297)" stroke="#fff" stroke-width="1.58">)</text><text transform="translate(104.50 563.00) rotate(-90) scale(0.8681 0.8316)" font-style="italic">k</text><text transform="translate(74.85 520.77) rotate(-90) scale(0.5883 0.6124)" stroke="#fff" stroke-width="0.50">5</text><text transform="translate(88.53 488.60) rotate(-90) scale(0.8638 0.8939)" stroke="#fff" stroke-width="2.05">/</text><text transform="translate(74.86 463.85) rotate(-90) scale(0.5858 0.6058)" stroke="#fff" stroke-width="0.50">3</text></g>
</g>
<g>
<g><text transform="translate(461.37 505.76) scale(0.9394 0.9011)" font-style="italic" fill="#ff0000">C</text><text transform="translate(521.63 517.65) scale(0.5482 0.5484)" fill="#ff0000" stroke="#fff" stroke-width="0.55">1</text><text transform="translate(550.06 505.74) scale(0.8107 0.8773)" font-style="italic" fill="#ff0000">U</text><text transform="translate(621.27 504.90) scale(0.9213 0.8644)" font-style="italic" fill="#ff0000">N</text><text transform="translate(691.02 506.20) scale(0.8611 0.8561)" font-style="italic" fill="#ff0000">k</text><text transform="translate(735.59 526.20) scale(0.6172 0.5316)" font-style="italic" fill="#ff0000">z</text><text transform="translate(735.48 477.87) scale(0.7479 0.5622)" fill="#ff0000">−</text><text transform="translate(780.30 475.10) scale(0.5688 0.5754)" fill="#ff0000">2</text></g>
<g><text transform="translate(1005.29 250.80) scale(0.8378 0.8388)" font-style="italic">k</text><text transform="translate(1049.84 223.67) scale(0.7350 0.5622)">−</text><text transform="translate(1092.96 221.58) scale(0.5834 0.5864)" stroke="#fff" stroke-width="0.51">3</text></g>
<g><text transform="translate(1357.78 379.40) scale(0.8751 0.8330)" font-style="italic">k</text><text transform="translate(1402.25 353.37) scale(0.7522 0.5622)">−</text><text transform="translate(1446.60 350.57) scale(0.5759 0.5944)" stroke="#fff" stroke-width="0.51">5</text><text transform="translate(1477.00 363.13) scale(0.9466 0.8910)" stroke="#fff" stroke-width="1.96">/</text><text transform="translate(1504.36 350.58) scale(0.5834 0.5879)" stroke="#fff" stroke-width="0.51">3</text></g>
<g><text transform="translate(1139.64 881.60) scale(0.8890 0.8085)" font-style="italic">k</text><text transform="translate(1181.94 894.13) scale(0.4739 0.5799)" font-style="italic">b</text></g>
<g><text transform="translate(1600.69 881.60) scale(0.8727 0.8085)" font-style="italic">k</text><text transform="translate(1640.74 893.50) scale(0.5563 0.5156)" font-style="italic">o</text></g>
</g>
</svg></body></html>
